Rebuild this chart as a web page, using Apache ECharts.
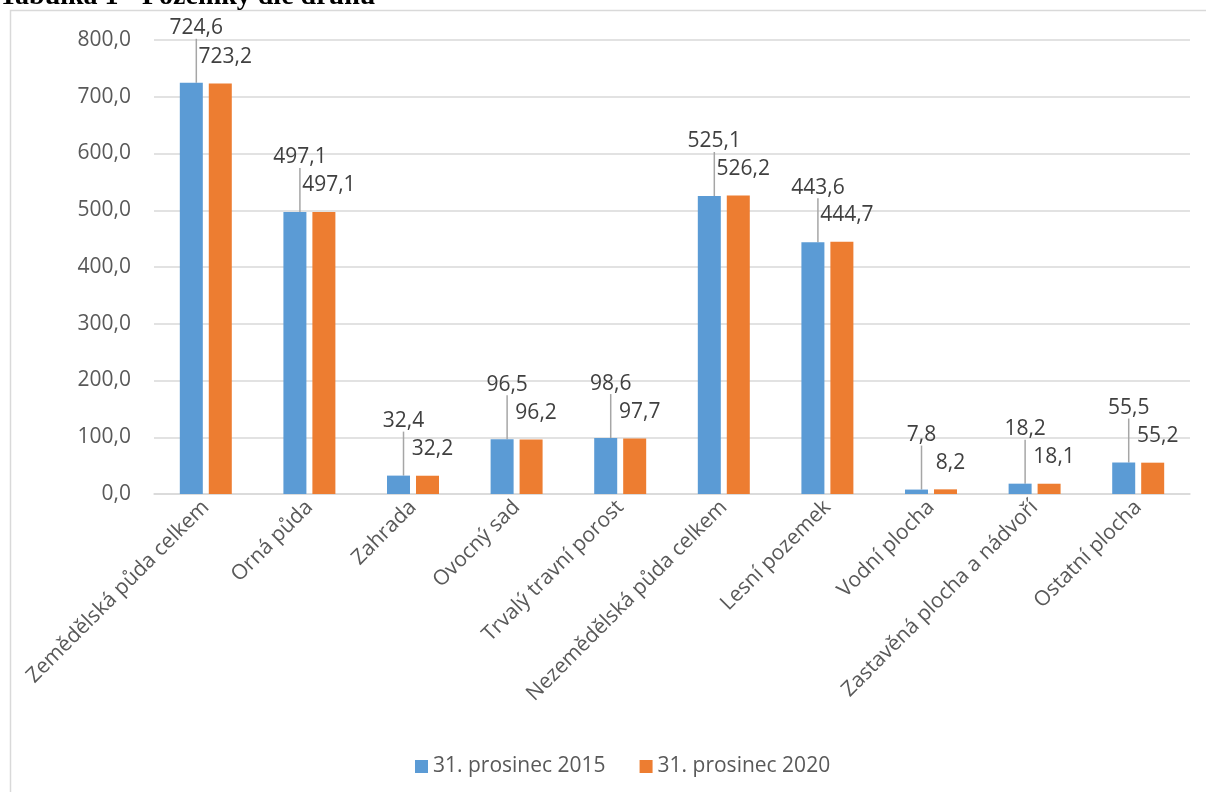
<!DOCTYPE html>
<html>
<head>
<meta charset="utf-8">
<script src="https://cdn.jsdelivr.net/npm/echarts@6/dist/echarts.min.js"></script>
<style>
html,body{margin:0;padding:0;background:#fff;}
#c{width:1206px;height:792px;}
</style>
</head>
<body>
<div id="c"></div>
<script>
const categories = ['Zemědělská půda celkem','Orná půda','Zahrada','Ovocný sad','Trvalý travní porost','Nezemědělská půda celkem','Lesní pozemek','Vodní plocha','Zastavěná plocha a nádvoří','Ostatní plocha'];
const seriesNames = ['31. prosinec 2015','31. prosinec 2020'];
const values2015 = [724.6,497.1,32.4,96.5,98.6,525.1,443.6,7.8,18.2,55.5];
const values2020 = [723.2,497.1,32.2,96.2,97.7,526.2,444.7,8.2,18.1,55.2];
const titleText = 'Tabulka 1 - Pozemky dle druhu';

const FONT = '"Open Sans", "Noto Sans", sans-serif';
const FS = 21;
const fmt = v => v.toFixed(1).replace('.', ',');
const chart = echarts.init(document.getElementById('c'));
chart.setOption({
  animation: false,
  backgroundColor: '#fff',
  textStyle: {fontFamily: FONT},
  graphic: [
    {type: 'rect', shape: {x: 10.5, y: 10.5, width: 1300, height: 900}, style: {fill: 'none', stroke: '#d9d9d9', lineWidth: 1.5}, z: -1},
    {type: 'text', x: -1, y: 11, style: {text: titleText, font: 'bold 28px "Liberation Serif", "Times New Roman", serif', fill: '#000', verticalAlign: 'bottom'}, z: 10}
  ],
  legend: {
    data: seriesNames,
    top: 751,
    left: 410,
    icon: 'rect',
    itemWidth: 13,
    itemHeight: 13,
    itemGap: 34,
    textStyle: {color: '#595959', fontSize: FS, fontFamily: FONT}
  },
  grid: {left: 154, right: 16, top: 40, bottom: 298, containLabel: false},
  xAxis: {
    type: 'category',
    data: categories,
    axisLine: {lineStyle: {color: '#d9d9d9', width: 1.5}},
    axisTick: {show: false},
    axisLabel: {rotate: 45, interval: 0, color: '#595959', fontSize: FS, fontFamily: FONT, margin: 10}
  },
  yAxis: {
    type: 'value',
    min: 0, max: 800, interval: 100,
    axisLine: {show: false},
    axisTick: {show: false},
    splitLine: {lineStyle: {color: '#d9d9d9', width: 1.5}},
    axisLabel: {formatter: v => fmt(v), color: '#595959', fontSize: FS, fontFamily: FONT, margin: 23}
  },
  series: [
    {
      name: seriesNames[0], type: 'bar', data: values2015,
      barWidth: 23, barGap: '26%',
      itemStyle: {color: '#5B9BD5'},
      label: {show: true, position: 'top', formatter: p => fmt(p.value), color: '#404040', fontSize: FS, fontFamily: FONT},
      labelLayout: {dx: 5, dy: -39},
      labelLine: {show: true, lineStyle: {color: '#a6a6a6', width: 1.5}}
    },
    {
      name: seriesNames[1], type: 'bar', data: values2020,
      barWidth: 23,
      itemStyle: {color: '#ED7D31'},
      label: {show: true, position: 'top', formatter: p => fmt(p.value), color: '#404040', fontSize: FS, fontFamily: FONT},
      labelLayout: {dx: 5, dy: -11}
    }
  ]
});
</script>
</body>
</html>
